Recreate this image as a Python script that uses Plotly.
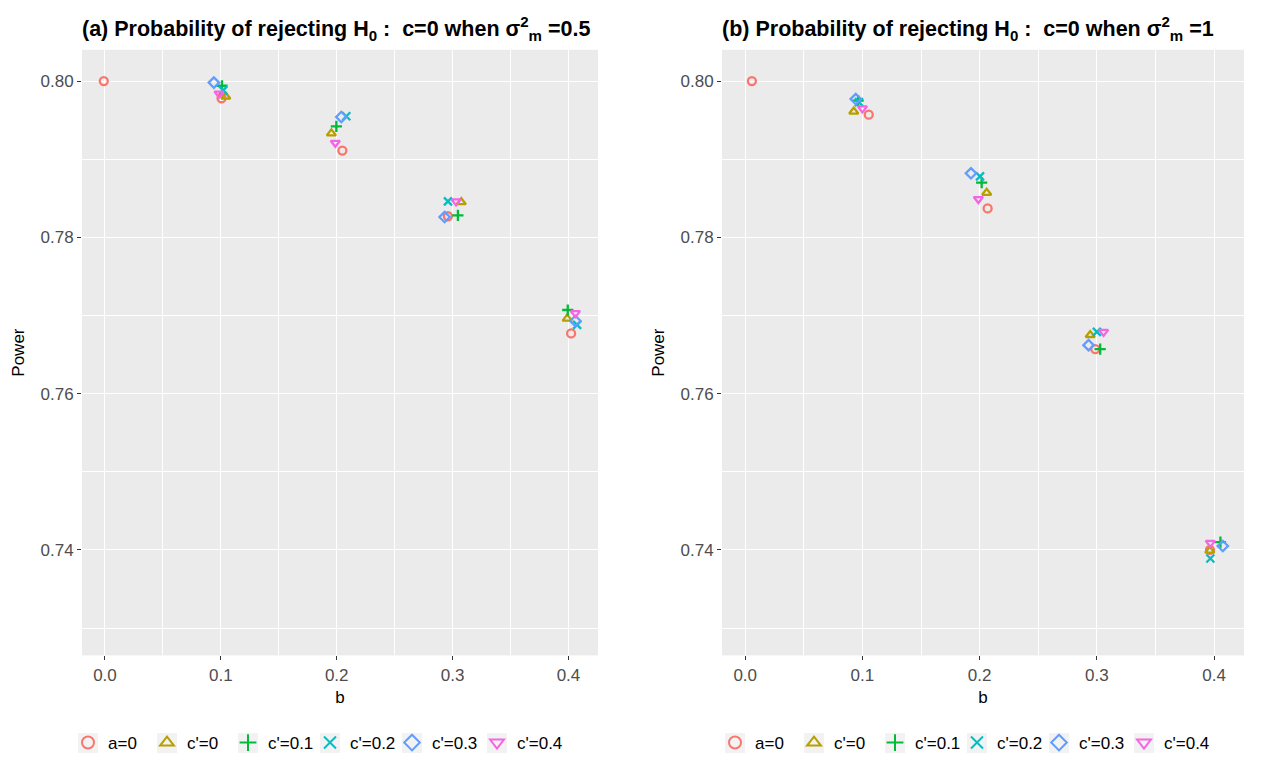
import plotly.graph_objects as go

series_names = ["a=0", "c'=0", "c'=0.1", "c'=0.2", "c'=0.3", "c'=0.4"]
colors = ["#F8766D", "#B79F00", "#00BA38", "#00BFC4", "#619CFF", "#F564E3"]
symbols = ["circle-open", "triangle-up-open", "cross-thin-open", "x-thin-open", "diamond-open", "triangle-down-open"]

# Panel (a): sigma_m^2 = 0.5   (b values shown with small dodge, power)
a_b = {
    "a=0":    [-0.001, 0.1006, 0.2049, 0.2960, 0.4023],
    "c'=0":   [0.1043, 0.1954, 0.3075, 0.3989],
    "c'=0.1": [0.1010, 0.1997, 0.3046, 0.3994],
    "c'=0.2": [0.1020, 0.2083, 0.2960, 0.4075],
    "c'=0.3": [0.0940, 0.2040, 0.2931, 0.4060],
    "c'=0.4": [0.0985, 0.1988, 0.3030, 0.4060],
}
a_power = {
    "a=0":    [0.8000, 0.7978, 0.7911, 0.7827, 0.7677],
    "c'=0":   [0.7980, 0.7933, 0.7845, 0.7696],
    "c'=0.1": [0.7994, 0.7942, 0.7828, 0.7707],
    "c'=0.2": [0.7988, 0.7955, 0.7846, 0.7688],
    "c'=0.3": [0.7998, 0.7954, 0.7826, 0.7693],
    "c'=0.4": [0.7984, 0.7921, 0.7846, 0.7703],
}

# Panel (b): sigma_m^2 = 1
b_b = {
    "a=0":    [0.0057, 0.1054, 0.2068, 0.2986, 0.3965],
    "c'=0":   [0.0926, 0.2060, 0.2943, 0.3963],
    "c'=0.1": [0.0963, 0.2017, 0.3028, 0.4054],
    "c'=0.2": [0.0970, 0.2003, 0.3000, 0.3968],
    "c'=0.3": [0.0943, 0.1926, 0.2929, 0.4074],
    "c'=0.4": [0.1000, 0.1989, 0.3057, 0.3968],
}
b_power = {
    "a=0":    [0.8000, 0.7957, 0.7837, 0.7657, 0.7400],
    "c'=0":   [0.7961, 0.7857, 0.7675, 0.7399],
    "c'=0.1": [0.7975, 0.7870, 0.7657, 0.7410],
    "c'=0.2": [0.7973, 0.7878, 0.7679, 0.7389],
    "c'=0.3": [0.7977, 0.7882, 0.7662, 0.7405],
    "c'=0.4": [0.7965, 0.7849, 0.7679, 0.7409],
}

x_ticks = [0.0, 0.1, 0.2, 0.3, 0.4]
x_tick_labels = ["0.0", "0.1", "0.2", "0.3", "0.4"]
y_ticks = [0.74, 0.76, 0.78, 0.80]
y_tick_labels = ["0.74", "0.76", "0.78", "0.80"]

W, H = 1263, 761
FONT = "Liberation Sans, Arial, sans-serif"

# legend key centres (px) for each panel's legend row
key_centres_a = [88, 167, 248, 330, 412, 497]
key_centres_b = [735, 814, 895, 977, 1059, 1144]
LEGEND_Y_PX = 746

fig = go.Figure()
legend_layout = {}
shapes = []
idx = 0
for panel, (xs_d, ys_d, xa, ya, centres) in enumerate([
        (a_b, a_power, "x", "y", key_centres_a),
        (b_b, b_power, "x2", "y2", key_centres_b)]):
    for name, col, sym, cx in zip(series_names, colors, symbols, centres):
        idx += 1
        lid = "legend" if idx == 1 else f"legend{idx}"
        fig.add_trace(go.Scatter(
            x=xs_d[name], y=ys_d[name], mode="markers", name=name,
            marker=dict(symbol=sym, color=col, size=8, line=dict(color=col, width=2.3)),
            xaxis=xa, yaxis=ya, legend=lid))
        legend_layout[lid] = dict(
            orientation="h", x=(cx - 20) / W, xanchor="left",
            y=1 - LEGEND_Y_PX / H, yanchor="middle",
            font=dict(family=FONT, size=17, color="black"),
            bgcolor="rgba(0,0,0,0)", itemsizing="constant")
        shapes.append(dict(type="rect", xref="paper", yref="paper",
                           x0=(cx - 10) / W, x1=(cx + 10) / W,
                           y0=1 - (LEGEND_Y_PX + 10) / H, y1=1 - (LEGEND_Y_PX - 10) / H,
                           fillcolor="#F2F2F2", line=dict(width=0), layer="below"))

dom_a = [82 / W, 598 / W]
dom_b = [722 / W, 1244 / W]
dom_y = [1 - 658 / H, 1 - 50 / H]

def xax(domain, anchor):
    return dict(domain=domain, anchor=anchor, range=[-0.0198, 0.4255],
                tickvals=x_ticks, ticktext=x_tick_labels,
                showgrid=True, gridcolor="white", gridwidth=1.4,
                minor=dict(tickvals=[0.05, 0.15, 0.25, 0.35], showgrid=True,
                           gridcolor="white", gridwidth=0.7, ticks=""),
                zeroline=False, showline=False,
                ticks="outside", ticklen=4, tickcolor="#333333", tickwidth=1,
                tickfont=dict(family=FONT, size=17, color="#4D4D4D"),
                title=dict(text="b", font=dict(family=FONT, size=17, color="black"), standoff=7))

def yax(domain, anchor, title_standoff):
    return dict(domain=domain, anchor=anchor, range=[0.7265, 0.804],
                tickvals=y_ticks, ticktext=y_tick_labels,
                showgrid=True, gridcolor="white", gridwidth=1.4,
                minor=dict(tickvals=[0.73, 0.75, 0.77, 0.79], showgrid=True,
                           gridcolor="white", gridwidth=0.7, ticks=""),
                zeroline=False, showline=False,
                ticks="outside", ticklen=4, tickcolor="#333333", tickwidth=1,
                tickfont=dict(family=FONT, size=17, color="#4D4D4D"),
                title=dict(text="Power", font=dict(family=FONT, size=17, color="black"), standoff=title_standoff))

fig.update_layout(
    width=W, height=H,
    margin=dict(l=0, r=0, t=0, b=0),
    paper_bgcolor="white", plot_bgcolor="#EBEBEB",
    xaxis=xax(dom_a, "y"), yaxis=yax(dom_y, "x", 11),
    xaxis2=xax(dom_b, "y2"), yaxis2=yax(dom_y, "x2", 11),
    showlegend=True,
    shapes=shapes,
    annotations=[
        dict(text="<b>(a) Probability of rejecting H<sub>0</sub> :  c=0 when σ<sup>2</sup><sub>m</sub> =0.5</b>",
             xref="paper", yref="paper", x=80 / W, y=1 - 29 / H, xanchor="left", yanchor="middle",
             showarrow=False, font=dict(family=FONT, size=21.5, color="black")),
        dict(text="<b>(b) Probability of rejecting H<sub>0</sub> :  c=0 when σ<sup>2</sup><sub>m</sub> =1</b>",
             xref="paper", yref="paper", x=720 / W, y=1 - 29 / H, xanchor="left", yanchor="middle",
             showarrow=False, font=dict(family=FONT, size=21.5, color="black")),
    ],
    **legend_layout,
)

fig.write_html("out.html", config={"displayModeBar": False},
               post_script="document.body.style.margin='0px';document.body.style.padding='0px';")
